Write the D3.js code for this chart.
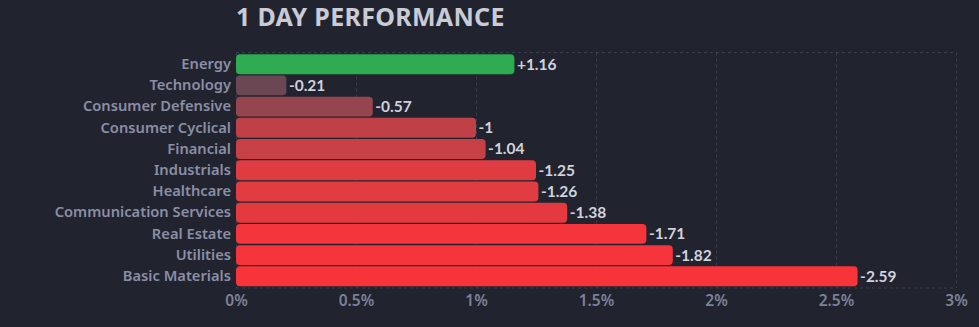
<!DOCTYPE html>
<html><head><meta charset="utf-8">
<script src="https://cdn.jsdelivr.net/npm/d3@7"></script>
<style>
html,body{margin:0;padding:0;background:#21242e;}
svg{display:block;}
</style></head>
<body>
<svg id="chart" width="979" height="327"></svg>
<script>
const categories = ["Energy","Technology","Consumer Defensive","Consumer Cyclical","Financial","Industrials","Healthcare","Communication Services","Real Estate","Utilities","Basic Materials"];
const values = [1.16,-0.21,-0.57,-1,-1.04,-1.25,-1.26,-1.38,-1.71,-1.82,-2.59];
const valueLabels = ["+1.16","-0.21","-0.57","-1","-1.04","-1.25","-1.26","-1.38","-1.71","-1.82","-2.59"];
const barColors = ["#2eab51","#6a4753","#96444e","#bf4147","#c64045","#df3c41","#e03c41","#e43a3f","#f4353b","#f5353b","#f7343a"];
const tickValues = [0,0.5,1,1.5,2,2.5,3];
const tickLabels = ["0%","0.5%","1%","1.5%","2%","2.5%","3%"];

(function(){
const svg = d3.select("#chart");
const pLeft = 236, pRight = 956, pTop = 52.5, pBottom = 288;
const x = d3.scaleLinear().domain([0,3]).range([pLeft,pRight]);
const y = d3.scaleBand().domain(categories).range([pTop,pBottom]).paddingInner(0.06).paddingOuter(0.08);

svg.append("rect").attr("width",979).attr("height",327).attr("fill","#21242e");

svg.append("text").attr("x",236).attr("y",26).text("1 DAY PERFORMANCE")
  .attr("fill","#c9cbd6").attr("font-family","'Noto Sans','Open Sans',sans-serif")
  .attr("font-weight",700).attr("font-size",25).attr("letter-spacing",0.3);

const grid = svg.append("g").attr("stroke","#3a3e4c").attr("stroke-dasharray","3,3").attr("stroke-width",1);
tickValues.forEach(t=>{
  grid.append("line").attr("x1",Math.round(x(t))+0.5).attr("x2",Math.round(x(t))+0.5).attr("y1",pTop).attr("y2",pBottom);
});
grid.append("line").attr("x1",pLeft).attr("x2",pRight).attr("y1",pTop).attr("y2",pTop);
grid.append("line").attr("x1",pLeft).attr("x2",pRight).attr("y1",pBottom).attr("y2",pBottom);

const xAxis = d3.axisBottom(x).tickValues(tickValues).tickFormat((d,i)=>tickLabels[i]).tickSize(0).tickPadding(7);
const ax = svg.append("g").attr("transform",`translate(0,${pBottom})`).call(xAxis);
ax.select(".domain").remove();
ax.selectAll("text").attr("fill","#7c8198").attr("font-size",15.5).attr("font-weight",600)
  .attr("font-family","'Noto Sans','Open Sans',sans-serif");

const yAxis = d3.axisLeft(y).tickSize(0).tickPadding(5);
const ay = svg.append("g").attr("transform",`translate(${pLeft},0)`).call(yAxis);
ay.select(".domain").remove();
ay.selectAll("text").attr("fill","#8a8ea6").attr("font-size",14.7).attr("font-weight",600)
  .attr("font-family","'Noto Sans','Open Sans',sans-serif");

const data = categories.map((c,i)=>({c, v:values[i], l:valueLabels[i], col:barColors[i]}));
svg.append("g").selectAll("path").data(data).join("path")
  .attr("fill",d=>d.col)
  .attr("d",d=>{
    const x0=x(0), x1=x(Math.abs(d.v)), y0=y(d.c), h=y.bandwidth(), r=4;
    const p=d3.path();
    p.moveTo(x0+r,y0); p.lineTo(x1-r,y0); p.arcTo(x1,y0,x1,y0+r,r);
    p.lineTo(x1,y0+h-r); p.arcTo(x1,y0+h,x1-r,y0+h,r);
    p.lineTo(x0+r,y0+h); p.arcTo(x0,y0+h,x0,y0+h-r,r);
    p.lineTo(x0,y0+r); p.arcTo(x0,y0,x0+r,y0,r); p.closePath();
    return p.toString();
  });

svg.append("g").selectAll("text").data(data).join("text")
  .attr("x",d=>x(Math.abs(d.v))+2.5)
  .attr("y",d=>y(d.c)+y.bandwidth()/2)
  .attr("dy","0.35em")
  .text(d=>d.l)
  .attr("fill","#d0d2dc").attr("font-size",15.5).attr("font-weight",700)
  .attr("font-family","Lato,sans-serif");
})();
</script>
</body></html>
